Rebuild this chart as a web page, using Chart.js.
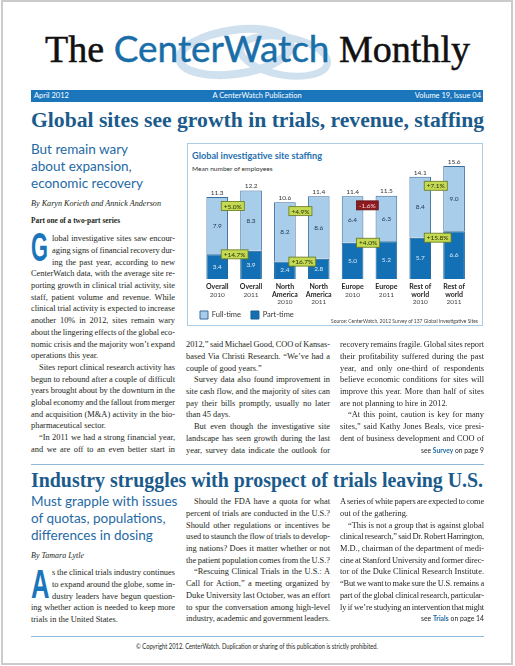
<!DOCTYPE html>
<html>
<head>
<meta charset="utf-8">
<title>The CenterWatch Monthly - April 2012</title>
<script src="https://cdn.jsdelivr.net/npm/chart.js@4.4.1/dist/chart.umd.min.js"></script>
<style>
  html, body { margin: 0; padding: 0; background: #fff; }
  body { position: relative; width: 515px; height: 666px; overflow: hidden;
         font-family: "Liberation Serif", serif; color: #231f20; }
  .a { position: absolute; }
  .frame { left: 1px; top: 0; width: 512px; height: 665px; border: 2px solid #cbcbcb; box-sizing: border-box; }
  .logo { left: 160px; top: 20px; }
  .mast { left: 0; top: 30px; width: 515px; text-align: center; font-size: 38px; line-height: 38px; color: #111;
          white-space: nowrap; -webkit-text-stroke: 0.5px #111; }
  .mast .cw { font-family: Lato, sans-serif; color: #1a6ea8; font-size: 37px; line-height: 0; -webkit-text-stroke: 0.4px #1a6ea8; }
  .bar { left: 31px; top: 90px; width: 452px; height: 11.5px; background: #1b75bb; color: #fff; font: 7.5px/11.5px Lato, sans-serif; }
  .bar span { position: absolute; top: 0; white-space: nowrap; }
  .head { left: 31px; font-weight: bold; font-size: 21.5px; line-height: 22px; color: #1b5b8c; white-space: nowrap; }
  .sub { left: 31px; font-family: Lato, sans-serif; font-size: 13.5px; line-height: 17px; color: #1f6aa5; white-space: nowrap; }
  .by { left: 31px; font-style: italic; font-size: 8.4px; line-height: 11.7px; white-space: nowrap; }
  .part { left: 31px; font-weight: bold; font-size: 8px; line-height: 11.7px; white-space: nowrap; }
  .col { width: 144px; font-size: 8.4px; line-height: 11.7px; }
  .ln { white-space: nowrap; }
  .i { padding-left: 8px; }
  .d { padding-left: 21px; }
  .drop { font-family: "Liberation Sans Narrow", "Liberation Sans", sans-serif; font-weight: bold;
          font-size: 40px; line-height: 32px; color: #1b75bb; white-space: nowrap; }
  .rule { left: 31px; width: 453px; height: 0; border-top: 1px solid #8db8d8; }
  .see { font-family: Lato, sans-serif; font-size: 7.5px; text-align: right; white-space: nowrap; }
  .see b { color: #1f6aa5; }
  .box { left: 187px; top: 143px; width: 296px; height: 183px; border: 1.5px solid #a9cce7; box-sizing: border-box; }
  .ctitle { left: 192px; top: 149.8px; font: bold 9px/12px Lato, sans-serif; color: #1f6fae; white-space: nowrap; }
  .csub { left: 192px; top: 165px; font: 6.5px/8px Lato, sans-serif; color: #333; white-space: nowrap; }
  .csrc { left: 331px; top: 317.5px; font: 5.5px/7px Lato, sans-serif; color: #444; white-space: nowrap; }
  #cw { left: 187px; top: 143px; width: 296px; height: 186px; }
  .foot { left: 136px; top: 641px; font: 7px/10px Lato, sans-serif; color: #231f20; white-space: nowrap; }
</style>
</head>
<body>
<div class="a frame"></div>

<svg class="a logo" width="200" height="70" viewBox="160 20 200 70">
  <ellipse cx="235" cy="52" rx="56" ry="22" transform="rotate(-8 235 52)" fill="none" stroke="#cfe0ef" stroke-width="8"/>
  <ellipse cx="284" cy="56" rx="44" ry="19" transform="rotate(10 284 56)" fill="none" stroke="#cfe0ef" stroke-width="7"/>
</svg>
<div class="a mast">The <span class="cw">CenterWatch</span> Monthly</div>

<div class="a bar">
  <span style="left:3px">April 2012</span>
  <span style="left:0;width:100%;text-align:center">A CenterWatch Publication</span>
  <span style="right:2px">Volume 19, Issue 04</span>
</div>

<div class="a head" style="top:109.2px" data-w="453">Global sites see growth in trials, revenue, staffing</div>

<div class="a sub" style="top:141.3px">But remain wary<br>about expansion,<br>economic recovery</div>
<div class="a by" style="top:198.2px" data-w="130">By Karyn Korieth and Annick Anderson</div>
<div class="a part" style="top:214.9px" data-w="89">Part one of a two-part series</div>

<div class="a drop" style="left:31px;top:230.8px" data-w="17">G</div>
<div class="a col" style="left:31px;top:233.2px">
  <div class="ln d">lobal investigative sites saw encour-</div>
  <div class="ln d">aging signs of financial recovery dur-</div>
  <div class="ln d">ing the past year, according to new</div>
  <div class="ln">CenterWatch data, with the average site re-</div>
  <div class="ln">porting growth in clinical trial activity, site</div>
  <div class="ln">staff, patient volume and revenue. While</div>
  <div class="ln">clinical trial activity is expected to increase</div>
  <div class="ln">another 10% in 2012, sites remain wary</div>
  <div class="ln">about the lingering effects of the global eco-</div>
  <div class="ln">nomic crisis and the majority won’t expand</div>
  <div class="ln e">operations this year.</div>
  <div class="ln i">Sites report clinical research activity has</div>
  <div class="ln">begun to rebound after a couple of difficult</div>
  <div class="ln">years brought about by the downturn in the</div>
  <div class="ln">global economy and the fallout from merger</div>
  <div class="ln">and acquisition (M&amp;A) activity in the bio-</div>
  <div class="ln e">pharmaceutical sector.</div>
  <div class="ln i">“In 2011 we had a strong financial year,</div>
  <div class="ln">and we are off to an even better start in</div>
</div>

<div class="a box"></div>
<div class="a ctitle" data-w="130">Global investigative site staffing</div>
<div class="a csub" data-w="80.5">Mean number of employees</div>
<div class="a" id="cw"><canvas id="staffing"></canvas></div>
<div class="a csrc" data-w="147">Source: CenterWatch, 2012 Survey of 137 Global Investigative Sites</div>

<div class="a col" style="left:186px;top:339.2px;width:143.5px">
  <div class="ln">2012,” said Michael Good, COO of Kansas-</div>
  <div class="ln">based Via Christi Research. “We’ve had a</div>
  <div class="ln e">couple of good years.”</div>
  <div class="ln i">Survey data also found improvement in</div>
  <div class="ln">site cash flow, and the majority of sites can</div>
  <div class="ln">pay their bills promptly, usually no later</div>
  <div class="ln e">than 45 days.</div>
  <div class="ln i">But even though the investigative site</div>
  <div class="ln">landscape has seen growth during the last</div>
  <div class="ln">year, survey data indicate the outlook for</div>
</div>

<div class="a col" style="left:340px;top:339.2px">
  <div class="ln">recovery remains fragile. Global sites report</div>
  <div class="ln">their profitability suffered during the past</div>
  <div class="ln">year, and only one-third of respondents</div>
  <div class="ln">believe economic conditions for sites will</div>
  <div class="ln">improve this year. More than half of sites</div>
  <div class="ln e">are not planning to hire in 2012.</div>
  <div class="ln i">“At this point, caution is key for many</div>
  <div class="ln">sites,” said Kathy Jones Beals, vice presi-</div>
  <div class="ln">dent of business development and COO of</div>
  <div class="see">see <b>Survey</b> on page 9</div>
</div>

<div class="a rule" style="top:464px"></div>
<div class="a head" style="top:469px" data-w="452">Industry struggles with prospect of trials leaving U.S.</div>

<div class="a sub" style="top:492.8px">Must grapple with issues<br>of quotas, populations,<br>differences in dosing</div>
<div class="a by" style="top:550.2px" data-w="53">By Tamara Lytle</div>

<div class="a drop" style="left:31px;top:567.8px" data-w="18.5">A</div>
<div class="a col" style="left:31px;top:567.2px">
  <div class="ln d">s the clinical trials industry continues</div>
  <div class="ln d">to expand around the globe, some in-</div>
  <div class="ln d">dustry leaders have begun question-</div>
  <div class="ln">ing whether action is needed to keep more</div>
  <div class="ln e">trials in the United States.</div>
</div>

<div class="a col" style="left:186px;top:496.2px;width:143.5px">
  <div class="ln i">Should the FDA have a quota for what</div>
  <div class="ln">percent of trials are conducted in the U.S.?</div>
  <div class="ln">Should other regulations or incentives be</div>
  <div class="ln">used to staunch the flow of trials to develop-</div>
  <div class="ln">ing nations? Does it matter whether or not</div>
  <div class="ln e">the patient population comes from the U.S.?</div>
  <div class="ln i">“Rescuing Clinical Trials in the U.S.: A</div>
  <div class="ln">Call for Action,” a meeting organized by</div>
  <div class="ln">Duke University last October, was an effort</div>
  <div class="ln">to spur the conversation among high-level</div>
  <div class="ln">industry, academic and government leaders.</div>
</div>

<div class="a col" style="left:340px;top:496.2px">
  <div class="ln">A series of white papers are expected to come</div>
  <div class="ln e">out of the gathering.</div>
  <div class="ln i">“This is not a group that is against global</div>
  <div class="ln">clinical research,” said Dr. Robert Harrington,</div>
  <div class="ln">M.D., chairman of the department of medi-</div>
  <div class="ln">cine at Stanford University and former direc-</div>
  <div class="ln">tor of the Duke Clinical Research Institute.</div>
  <div class="ln">“But we want to make sure the U.S. remains a</div>
  <div class="ln">part of the global clinical research, particular-</div>
  <div class="ln">ly if we’re studying an intervention that might</div>
  <div class="see">see <b>Trials</b> on page 14</div>
</div>

<div class="a rule" style="top:636px"></div>
<div class="a foot" data-w="242">© Copyright 2012. CenterWatch. Duplication or sharing of this publication is strictly prohibited.</div>

<script>
// chart data
var categories = [["Overall"], ["Overall"], ["North", "America"], ["North", "America"],
                  ["Europe"], ["Europe"], ["Rest of", "world"], ["Rest of", "world"]];
var years = ["2010", "2011", "2010", "2011", "2010", "2011", "2010", "2011"];
var partTime = [3.4, 3.9, 2.4, 2.8, 5.0, 5.2, 5.7, 6.6];
var fullTime = [7.9, 8.3, 8.2, 8.6, 6.4, 6.3, 8.4, 9.0];
var totals = [11.3, 12.2, 10.6, 11.4, 11.4, 11.5, 14.1, 15.6];
var fullChange = ["+5.0%", "+4.9%", "-1.6%", "+7.1%"];
var partChange = ["+14.7%", "+16.7%", "+4.0%", "+15.8%"];

function textWidth(el) {
  var r = document.createRange();
  r.selectNodeContents(el);
  return r.getBoundingClientRect().width;
}

// squeeze / stretch a single line of text to a given width
function fitW(el, w, origin) {
  var nat = textWidth(el);
  if (!nat) return;
  el.style.transformOrigin = origin || "left top";
  el.style.transform = "scaleX(" + (w / nat) + ")";
}

// justify a line by hand: word spacing first, letter spacing when it gets too tight
function justify(el) {
  var cs = getComputedStyle(el);
  var avail = el.clientWidth - parseFloat(cs.paddingLeft) - parseFloat(cs.paddingRight);
  var nat = textWidth(el);
  var txt = el.textContent.trim();
  var gaps = (txt.match(/ /g) || []).length;
  if (!gaps) return;
  var extra = (avail - nat) / gaps;
  if (el.classList.contains("e") && extra > 0) return;
  if (extra < -0.5) {
    el.style.letterSpacing = ((avail - nat + 0.5 * gaps) / txt.length) + "px";
    extra = -0.5;
  }
  el.style.wordSpacing = extra + "px";
}

document.querySelectorAll(".ln").forEach(justify);
document.querySelectorAll("[data-w]").forEach(function (el) {
  fitW(el, parseFloat(el.getAttribute("data-w")));
});
document.querySelectorAll(".see").forEach(function (el) {
  el.style.display = "block";
  fitW(el, 63, "right top");
});

function drawTag(ctx, text, left, cy) {
  var neg = text.charAt(0) === "-";
  ctx.font = "6.5px Lato";
  var w = ctx.measureText(text).width + 5, h = 9;
  ctx.fillStyle = neg ? "#8e1b20" : "#c4da52";
  ctx.strokeStyle = neg ? "#5c0f12" : "#66761f";
  ctx.lineWidth = 0.8;
  ctx.fillRect(left, cy - h / 2, w, h);
  ctx.strokeRect(left, cy - h / 2, w, h);
  ctx.fillStyle = neg ? "#f6d5d5" : "#2a2e0c";
  ctx.textAlign = "left";
  ctx.textBaseline = "middle";
  ctx.fillText(text, left + 2.5, cy + 0.5);
}

var barLabels = {
  id: "barLabels",
  afterDatasetsDraw: function (chart) {
    var ctx = chart.ctx, x = chart.scales.x, y = chart.scales.y;
    var base = y.getPixelForValue(0);
    ctx.save();
    ctx.textAlign = "center";
    for (var i = 0; i < totals.length; i++) {
      var cx = x.getPixelForValue(i);
      ctx.font = "6.5px Lato";
      ctx.textBaseline = "middle";
      ctx.fillStyle = "#dce9f5";
      ctx.fillText(partTime[i].toFixed(1), cx, y.getPixelForValue(partTime[i] / 2));
      ctx.fillStyle = "#1e3550";
      ctx.fillText(fullTime[i].toFixed(1), cx, y.getPixelForValue(partTime[i] + fullTime[i] / 2));
      ctx.fillStyle = "#333";
      ctx.textBaseline = "bottom";
      ctx.fillText(totals[i].toFixed(1), cx, y.getPixelForValue(totals[i]) - 1);

      // category names (bold) and the year below them
      ctx.textBaseline = "middle";
      ctx.font = "bold 7px Lato";
      ctx.fillStyle = "#231f20";
      var names = categories[i];
      for (var j = 0; j < names.length; j++) {
        ctx.fillText(names[j], cx, base + 8 + j * 7.6);
      }
      ctx.font = "6.5px Lato";
      ctx.fillStyle = "#444";
      ctx.fillText(years[i], cx, base + 8 + names.length * 7.6);
    }
    // change tags between each 2010 / 2011 pair
    for (var k = 0; k < fullChange.length; k++) {
      var i0 = k * 2;
      var left = x.getPixelForValue(i0) + 4;
      drawTag(ctx, fullChange[k], left, y.getPixelForValue(totals[i0]) + 9);
      drawTag(ctx, partChange[k], left, y.getPixelForValue(partTime[i0]));
    }
    ctx.restore();
  }
};

var ctx = document.getElementById("staffing").getContext("2d");
var staffingChart = new Chart(ctx, {
  type: "bar",
  data: {
    labels: categories.map(function (c, i) { return c.join(" ") + " " + years[i]; }),
    datasets: [
      { label: "Part-time", data: partTime, backgroundColor: "#1470b5", borderColor: "#1a5e94", borderWidth: 1 },
      { label: "Full-time", data: fullTime, backgroundColor: "#a8cdeb", borderColor: "#3a6d9c", borderWidth: 1 }
    ]
  },
  options: {
    responsive: true,
    maintainAspectRatio: false,
    animation: false,
    datasets: { bar: { barPercentage: 0.64, categoryPercentage: 1 } },
    layout: { padding: { left: 3, right: 12, top: 20, bottom: 0 } },
    scales: {
      x: {
        stacked: true,
        grid: { display: false },
        border: { display: false },
        ticks: { display: false },
        afterFit: function (s) { s.height = 22; }
      },
      y: {
        stacked: true,
        min: 0,
        max: 16,
        grid: { display: false },
        border: { display: false },
        ticks: { display: false },
        afterFit: function (s) { s.width = 10.3; }
      }
    },
    plugins: {
      legend: {
        position: "bottom",
        align: "start",
        reverse: true,
        labels: { boxWidth: 8, boxHeight: 8, padding: 10, color: "#333", font: { family: "Lato", size: 7.5 } }
      },
      tooltip: { enabled: false }
    }
  },
  plugins: [barLabels]
});
</script>
</body>
</html>
